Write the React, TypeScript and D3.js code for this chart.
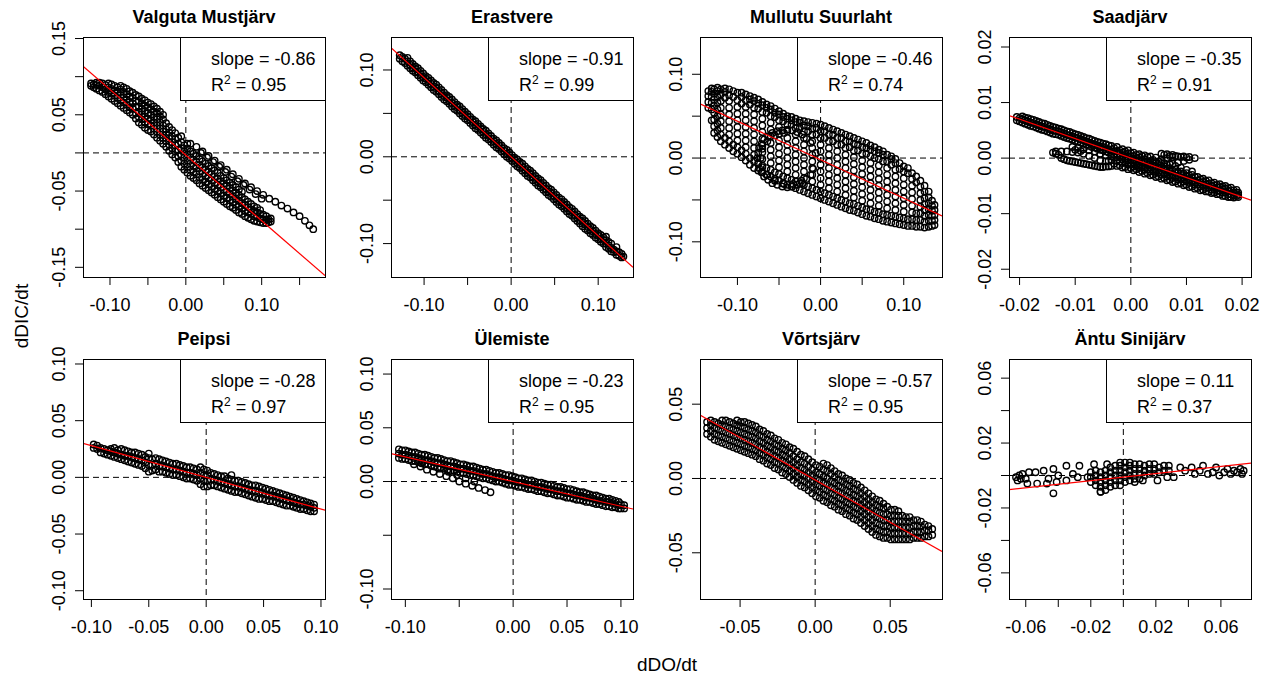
import React from 'react';
import * as d3 from 'd3';

type Col = [number, number[]];
type Pt = [number, number];

// panel titles and fit results
const lakes = ['Valguta Mustjärv', 'Erastvere', 'Mullutu Suurlaht', 'Saadjärv', 'Peipsi', 'Ülemiste', 'Võrtsjärv', 'Äntu Sinijärv'];
const slopes = [-0.86, -0.91, -0.46, -0.35, -0.28, -0.23, -0.57, 0.11];
const rSquared = [0.95, 0.99, 0.74, 0.91, 0.97, 0.95, 0.95, 0.37];
const intercepts = [-0.003, 0, -0.002, 0, 0, 0, -0.001, -0.001];

// axis limits (usr coords)
const xLimits: Pt[] = [[-0.1356, 0.1835], [-0.138, 0.14], [-0.145, 0.146], [-0.0219, 0.0216], [-0.1073, 0.1035], [-0.1133, 0.1112], [-0.0767, 0.0845], [-0.0703, 0.0785]];
const yLimits: Pt[] = [[-0.1627, 0.152], [-0.1385, 0.138], [-0.142, 0.1445], [-0.0214, 0.0218], [-0.1073, 0.1044], [-0.1093, 0.114], [-0.0811, 0.0804], [-0.0761, 0.0718]];

const xTicks = [
  [-0.1, -0.05, 0, 0.05, 0.1, 0.15], [-0.1, -0.05, 0, 0.05, 0.1], [-0.1, -0.05, 0, 0.05, 0.1], [-0.02, -0.01, 0, 0.01, 0.02],
  [-0.1, -0.05, 0, 0.05, 0.1], [-0.1, -0.05, 0, 0.05, 0.1], [-0.05, 0, 0.05], [-0.06, -0.04, -0.02, 0, 0.02, 0.04, 0.06],
];
const xTickLabels = [
  ['-0.10', '', '0.00', '', '0.10', ''], ['-0.10', '', '0.00', '', '0.10'], ['-0.10', '', '0.00', '', '0.10'], ['-0.02', '-0.01', '0.00', '0.01', '0.02'],
  ['-0.10', '-0.05', '0.00', '0.05', '0.10'], ['-0.10', '', '0.00', '0.05', '0.10'], ['-0.05', '0.00', '0.05'], ['-0.06', '', '-0.02', '', '0.02', '', '0.06'],
];
const yTicks = [
  [-0.15, -0.1, -0.05, 0, 0.05, 0.1, 0.15], [-0.1, -0.05, 0, 0.05, 0.1], [-0.1, -0.05, 0, 0.05, 0.1], [-0.02, -0.01, 0, 0.01, 0.02],
  [-0.1, -0.05, 0, 0.05, 0.1], [-0.1, -0.05, 0, 0.05, 0.1], [-0.05, 0, 0.05], [-0.06, -0.04, -0.02, 0, 0.02, 0.04, 0.06],
];
const yTickLabels = [
  ['-0.15', '', '-0.05', '', '0.05', '', '0.15'], ['-0.10', '', '0.00', '', '0.10'], ['-0.10', '', '0.00', '', '0.10'], ['-0.02', '-0.01', '0.00', '0.01', '0.02'],
  ['-0.10', '-0.05', '0.00', '0.05', '0.10'], ['-0.10', '', '0.00', '0.05', '0.10'], ['-0.05', '0.00', '0.05'], ['-0.06', '', '-0.02', '', '0.02', '', '0.06'],
];

// scatter points: columns of [dDO/dt, dDIC/dt values]
const valgutaCols: Col[] = [
  [-0.125, [0.088, 0.091]], [-0.118, [0.084, 0.089, 0.092]], [-0.11, [0.08, 0.086, 0.091]], [-0.102, [0.074, 0.08, 0.086, 0.091]],
  [-0.094, [0.068, 0.075, 0.082, 0.088]], [-0.086, [0.062, 0.069, 0.076, 0.083, 0.088]], [-0.078, [0.056, 0.063, 0.07, 0.077, 0.084]],
  [-0.07, [0.05, 0.058, 0.065, 0.072, 0.079]], [-0.062, [0.04, 0.047, 0.054, 0.061, 0.068, 0.074]], [-0.054, [0.033, 0.04, 0.048, 0.055, 0.062, 0.069]],
  [-0.046, [0.028, 0.036, 0.043, 0.05, 0.057, 0.064]], [-0.038, [0.02, 0.028, 0.036, 0.044, 0.052, 0.058]], [-0.03, [0.012, 0.02, 0.028, 0.036, 0.044, 0.05]],
  [-0.022, [0.003, 0.011, 0.019, 0.027, 0.034]], [-0.014, [-0.006, 0.002, 0.01, 0.018, 0.026]], [-0.006, [-0.018, -0.01, -0.002, 0.006, 0.014, 0.022]],
  [0.002, [-0.026, -0.018, -0.01, -0.002, 0.006, 0.012]], [0.01, [-0.033, -0.025, -0.017, -0.009, -0.001]], [0.018, [-0.04, -0.032, -0.024, -0.016, -0.008]],
  [0.026, [-0.046, -0.038, -0.03, -0.022, -0.014]], [0.034, [-0.052, -0.044, -0.036, -0.028, -0.02]], [0.042, [-0.058, -0.05, -0.042, -0.034, -0.026]],
  [0.05, [-0.064, -0.056, -0.048, -0.04, -0.033]], [0.058, [-0.07, -0.062, -0.054, -0.046, -0.039]], [0.066, [-0.075, -0.068, -0.06, -0.052, -0.045]],
  [0.074, [-0.08, -0.073, -0.066, -0.058, -0.051]], [0.082, [-0.085, -0.078, -0.071, -0.064]], [0.09, [-0.089, -0.083, -0.076, -0.07]],
  [0.098, [-0.091, -0.086, -0.08, -0.075]], [0.106, [-0.092, -0.088, -0.083]], [0.112, [-0.09, -0.086]],
  [-0.1215, [0.086, 0.09]], [-0.114, [0.082, 0.088, 0.092]], [-0.106, [0.077, 0.083, 0.089]], [-0.098, [0.071, 0.078, 0.084, 0.09]],
  [-0.09, [0.065, 0.072, 0.079, 0.086]], [-0.082, [0.059, 0.066, 0.073, 0.08, 0.086]], [-0.074, [0.053, 0.06, 0.067, 0.074, 0.081]],
  [-0.066, [0.045, 0.052, 0.06, 0.068, 0.076]], [-0.058, [0.037, 0.044, 0.051, 0.058, 0.065, 0.071]], [-0.05, [0.03, 0.038, 0.045, 0.052, 0.06, 0.066]],
  [-0.042, [0.024, 0.032, 0.04, 0.047, 0.054, 0.061]], [-0.034, [0.016, 0.024, 0.032, 0.04, 0.048, 0.054]], [-0.026, [0.008, 0.016, 0.024, 0.031, 0.039]],
  [-0.018, [-0.002, 0.006, 0.014, 0.022, 0.03]], [-0.01, [-0.012, -0.004, 0.004, 0.012, 0.02]], [-0.002, [-0.022, -0.014, -0.006, 0.002, 0.01]],
  [0.006, [-0.03, -0.022, -0.014, -0.006, 0.002]], [0.014, [-0.036, -0.028, -0.02, -0.012, -0.004]], [0.022, [-0.043, -0.035, -0.027, -0.019, -0.011]],
  [0.03, [-0.049, -0.041, -0.033, -0.025, -0.017]], [0.038, [-0.055, -0.047, -0.039, -0.031, -0.023]], [0.046, [-0.061, -0.053, -0.045, -0.037, -0.03]],
  [0.054, [-0.067, -0.059, -0.051, -0.043, -0.036]], [0.062, [-0.072, -0.065, -0.057, -0.049, -0.042]], [0.07, [-0.078, -0.07, -0.063, -0.055, -0.048]],
  [0.078, [-0.083, -0.076, -0.068, -0.061]], [0.086, [-0.087, -0.08, -0.074, -0.067]], [0.094, [-0.09, -0.084, -0.078, -0.072]],
  [0.102, [-0.092, -0.087, -0.081]], [0.109, [-0.091, -0.087]],
];
const valgutaTrail: Pt[] = [
  [0.006, 0.012], [0.014, 0.008], [0.022, 0.002], [0.03, -0.004], [0.038, -0.01], [0.046, -0.016], [0.054, -0.022], [0.062, -0.028],
  [0.07, -0.034], [0.078, -0.04], [0.086, -0.045], [0.094, -0.05], [0.102, -0.055], [0.11, -0.06], [0.118, -0.064], [0.126, -0.069],
  [0.134, -0.073], [0.142, -0.078], [0.15, -0.083], [0.157, -0.089], [0.163, -0.095], [0.168, -0.1],
  [0.02, 0], [0.028, -0.006], [0.036, -0.012], [0.044, -0.018], [0.052, -0.025], [0.06, -0.031], [0.068, -0.037], [0.076, -0.042],
  [0.084, -0.048], [0.092, -0.054], [0.1, -0.06],
];

const erastvereCols: Col[] = [
  [-0.128, [0.113, 0.117]], [-0.122, [0.108, 0.113]], [-0.116, [0.102, 0.106, 0.11]], [-0.11, [0.097, 0.101, 0.104]],
  [-0.104, [0.091, 0.095, 0.099]], [-0.098, [0.086, 0.09, 0.093]], [-0.092, [0.08, 0.084, 0.088]], [-0.086, [0.075, 0.079, 0.083]],
  [-0.08, [0.069, 0.073, 0.077]], [-0.074, [0.064, 0.068, 0.071]], [-0.068, [0.058, 0.062, 0.066]], [-0.062, [0.053, 0.057, 0.06]],
  [-0.056, [0.047, 0.051, 0.055]], [-0.05, [0.042, 0.046, 0.049]], [-0.044, [0.036, 0.04, 0.043]], [-0.038, [0.031, 0.035, 0.038]],
  [-0.032, [0.025, 0.029, 0.032]], [-0.026, [0.02, 0.024, 0.027]], [-0.02, [0.014, 0.018, 0.021]], [-0.014, [0.009, 0.013, 0.016]],
  [-0.008, [0.003, 0.007, 0.01]], [-0.002, [-0.002, 0.002, 0.005]], [0.004, [-0.008, -0.004, -0.001]], [0.01, [-0.013, -0.009, -0.006]],
  [0.016, [-0.019, -0.015, -0.011]], [0.022, [-0.024, -0.02, -0.016]], [0.028, [-0.03, -0.026, -0.022]], [0.034, [-0.035, -0.031, -0.027]],
  [0.04, [-0.041, -0.037, -0.033]], [0.046, [-0.046, -0.042, -0.038]], [0.052, [-0.052, -0.048, -0.044]], [0.058, [-0.057, -0.053, -0.049]],
  [0.064, [-0.063, -0.059, -0.055]], [0.07, [-0.068, -0.064, -0.06]], [0.076, [-0.074, -0.07, -0.066]], [0.082, [-0.08, -0.075, -0.071]],
  [0.088, [-0.085, -0.081, -0.077]], [0.094, [-0.09, -0.086, -0.082]], [0.1, [-0.095, -0.091, -0.088]], [0.106, [-0.1, -0.096, -0.093]],
  [0.112, [-0.106, -0.102, -0.098]], [0.118, [-0.11, -0.107]], [0.124, [-0.114, -0.11]], [0.129, [-0.115]],
  [-0.125, [0.11, 0.115]], [-0.119, [0.105, 0.11, 0.114]], [-0.113, [0.099, 0.103, 0.107]], [-0.107, [0.094, 0.098, 0.102]],
  [-0.101, [0.088, 0.092, 0.096]], [-0.095, [0.083, 0.087, 0.091]], [-0.089, [0.077, 0.081, 0.085]], [-0.083, [0.072, 0.076, 0.08]],
  [-0.077, [0.066, 0.07, 0.074]], [-0.071, [0.061, 0.065, 0.069]], [-0.065, [0.055, 0.059, 0.063]], [-0.059, [0.05, 0.054, 0.058]],
  [-0.053, [0.044, 0.048, 0.052]], [-0.047, [0.039, 0.043, 0.046]], [-0.041, [0.033, 0.037, 0.041]], [-0.035, [0.028, 0.032, 0.035]],
  [-0.029, [0.022, 0.026, 0.03]], [-0.023, [0.017, 0.021, 0.024]], [-0.017, [0.011, 0.015, 0.019]], [-0.011, [0.006, 0.01, 0.013]],
  [-0.005, [0, 0.004, 0.008]], [0.001, [-0.005, -0.001, 0.002]], [0.007, [-0.011, -0.007, -0.003]], [0.013, [-0.016, -0.012, -0.008]],
  [0.019, [-0.022, -0.018, -0.014]], [0.025, [-0.027, -0.023, -0.019]], [0.031, [-0.033, -0.029, -0.025]], [0.037, [-0.038, -0.034, -0.03]],
  [0.043, [-0.044, -0.04, -0.036]], [0.049, [-0.049, -0.045, -0.041]], [0.055, [-0.055, -0.051, -0.047]], [0.061, [-0.06, -0.056, -0.052]],
  [0.067, [-0.066, -0.062, -0.058]], [0.073, [-0.071, -0.067, -0.063]], [0.079, [-0.077, -0.073, -0.069]], [0.085, [-0.083, -0.078, -0.074]],
  [0.091, [-0.088, -0.084, -0.08]], [0.097, [-0.093, -0.089, -0.085]], [0.103, [-0.098, -0.094, -0.09]], [0.109, [-0.104, -0.1, -0.096, -0.092]],
  [0.115, [-0.109, -0.105, -0.1]], [0.121, [-0.113, -0.109, -0.104]], [0.127, [-0.116, -0.112]],
];

const mullutuCols: Col[] = [
  [-0.135, [0.06, 0.067, 0.074, 0.08]],
  [-0.128, [0.03, 0.038, 0.046, 0.054, 0.062, 0.07, 0.077, 0.082]],
  [-0.12, [0.02, 0.028, 0.036, 0.044, 0.052, 0.06, 0.068, 0.076, 0.082]],
  [-0.11, [0.012, 0.02, 0.028, 0.036, 0.044, 0.052, 0.06, 0.068, 0.075, 0.082]],
  [-0.1, [0.005, 0.013, 0.021, 0.029, 0.037, 0.045, 0.053, 0.061, 0.069, 0.078]],
  [-0.09, [-0.003, 0.005, 0.013, 0.021, 0.029, 0.037, 0.045, 0.053, 0.061, 0.069, 0.076]],
  [-0.08, [-0.012, -0.004, 0.004, 0.012, 0.02, 0.028, 0.036, 0.044, 0.052, 0.06, 0.068, 0.072]],
  [-0.07, [-0.017, -0.009, -0.001, 0.007, 0.015, 0.023, 0.031, 0.039, 0.047, 0.055, 0.063, 0.067]],
  [-0.06, [-0.022, -0.014, -0.006, 0.002, 0.01, 0.018, 0.026, 0.034, 0.042, 0.05, 0.058, 0.062]],
  [-0.05, [-0.027, -0.019, -0.011, -0.003, 0.005, 0.013, 0.021, 0.029, 0.037, 0.045, 0.052, 0.056]],
  [-0.04, [-0.032, -0.024, -0.016, -0.008, 0, 0.008, 0.016, 0.024, 0.032, 0.04, 0.047, 0.05]],
  [-0.03, [-0.036, -0.028, -0.02, -0.012, -0.004, 0.004, 0.012, 0.02, 0.028, 0.036, 0.043, 0.047]],
  [-0.02, [-0.04, -0.032, -0.024, -0.016, -0.008, 0, 0.008, 0.016, 0.024, 0.032, 0.039, 0.044]],
  [-0.01, [-0.044, -0.036, -0.028, -0.02, -0.012, -0.004, 0.004, 0.012, 0.02, 0.028, 0.035, 0.042]],
  [0, [-0.048, -0.04, -0.032, -0.024, -0.016, -0.008, 0, 0.008, 0.016, 0.024, 0.032, 0.04]],
  [0.01, [-0.052, -0.044, -0.036, -0.028, -0.02, -0.012, -0.004, 0.004, 0.012, 0.02, 0.028, 0.036]],
  [0.02, [-0.056, -0.048, -0.04, -0.032, -0.024, -0.016, -0.008, 0, 0.008, 0.016, 0.024, 0.032]],
  [0.03, [-0.06, -0.052, -0.044, -0.036, -0.028, -0.02, -0.012, -0.004, 0.004, 0.012, 0.02, 0.028]],
  [0.04, [-0.063, -0.055, -0.047, -0.039, -0.031, -0.023, -0.015, -0.007, 0.001, 0.009, 0.017, 0.024]],
  [0.05, [-0.067, -0.059, -0.051, -0.043, -0.035, -0.027, -0.019, -0.011, -0.003, 0.005, 0.013, 0.02]],
  [0.06, [-0.07, -0.062, -0.054, -0.046, -0.038, -0.03, -0.022, -0.014, -0.006, 0.002, 0.01, 0.015]],
  [0.07, [-0.073, -0.065, -0.057, -0.049, -0.041, -0.033, -0.025, -0.017, -0.009, -0.001, 0.006, 0.01]],
  [0.08, [-0.076, -0.068, -0.06, -0.052, -0.044, -0.036, -0.028, -0.02, -0.012, -0.004, 0.004]],
  [0.09, [-0.078, -0.07, -0.062, -0.054, -0.046, -0.038, -0.03, -0.022, -0.014, -0.006, -0.001]],
  [0.1, [-0.08, -0.072, -0.064, -0.056, -0.048, -0.04, -0.032, -0.024, -0.016, -0.01]],
  [0.11, [-0.081, -0.073, -0.065, -0.057, -0.049, -0.041, -0.033, -0.025, -0.018]],
  [0.12, [-0.082, -0.074, -0.066, -0.058, -0.05, -0.042, -0.034, -0.027]],
  [0.13, [-0.082, -0.075, -0.068, -0.061, -0.054, -0.047, -0.04]],
  [0.137, [-0.08, -0.074, -0.068, -0.062, -0.056]],
  // denser outer rim and end blobs
  [-0.131, [0.045, 0.058, 0.066, 0.073, 0.079, 0.083]], [-0.124, [0.025, 0.033, 0.041, 0.05, 0.058, 0.066, 0.073, 0.08, 0.084]],
  [-0.115, [0.016, 0.024, 0.072, 0.079, 0.083]], [-0.105, [0.008, 0.016, 0.073, 0.08]], [-0.095, [0.001, 0.009, 0.065, 0.073, 0.078]],
  [-0.085, [-0.008, 0, 0.064, 0.07, 0.074]], [-0.075, [-0.015, -0.007, 0.059, 0.065, 0.07]], [-0.065, [-0.02, -0.012, 0.054, 0.06, 0.064]],
  [-0.055, [-0.025, -0.017, 0.049, 0.054, 0.059]], [-0.045, [-0.03, -0.022, 0.044, 0.049, 0.053]], [-0.035, [-0.034, -0.026, 0.04, 0.045, 0.049]],
  [-0.025, [-0.038, -0.03, 0.036, 0.042, 0.045]], [-0.015, [-0.042, -0.034, 0.032, 0.038, 0.043]], [-0.005, [-0.046, -0.038, 0.028, 0.036, 0.041]],
  [0.005, [-0.05, -0.042, 0.024, 0.032, 0.038]], [0.015, [-0.054, -0.046, 0.02, 0.028, 0.034]], [0.025, [-0.058, -0.05, 0.016, 0.024, 0.03]],
  [0.035, [-0.062, -0.054, 0.013, 0.02, 0.026]], [0.045, [-0.065, -0.057, 0.009, 0.016, 0.022]], [0.055, [-0.069, -0.061, 0.005, 0.012, 0.018]],
  [0.065, [-0.072, -0.064, 0, 0.008, 0.013]], [0.075, [-0.075, -0.067, -0.004, 0.004, 0.008]], [0.085, [-0.077, -0.069, -0.008, -0.001, 0.002]],
  [0.095, [-0.079, -0.071, -0.013, -0.006]], [0.105, [-0.081, -0.073, -0.018, -0.012]], [0.115, [-0.082, -0.074, -0.066, -0.029, -0.022]],
  [0.125, [-0.083, -0.076, -0.069, -0.062, -0.055, -0.048, -0.04, -0.033]], [0.134, [-0.081, -0.075, -0.069, -0.063, -0.057, -0.051]],
];
const mullutuRing: Pt[] = [
  [-0.076, 0], [-0.074, 0.012], [-0.068, 0.022], [-0.058, 0.03], [-0.046, 0.033], [-0.034, 0.033], [-0.022, 0.028], [-0.012, 0.018],
  [-0.006, 0.006], [-0.074, -0.012], [-0.068, -0.022], [-0.058, -0.03], [-0.046, -0.034], [-0.034, -0.034], [-0.022, -0.03], [-0.012, -0.02],
  [-0.075, 0.006], [-0.071, 0.017], [-0.063, 0.026], [-0.052, 0.032], [-0.04, 0.034], [-0.028, 0.031], [-0.017, 0.023],
  [-0.075, -0.006], [-0.071, -0.017], [-0.063, -0.026], [-0.052, -0.032], [-0.04, -0.035], [-0.028, -0.032], [-0.017, -0.025], [-0.009, -0.013],
  [-0.072, 0], [-0.07, 0.011], [-0.064, 0.02], [-0.055, 0.027], [-0.044, 0.03], [-0.07, -0.011], [-0.064, -0.02], [-0.055, -0.027],
  [-0.044, -0.031], [-0.033, -0.031], [-0.023, -0.027],
];

const saadCols: Col[] = [
  [-0.0205, [0.0068, 0.0074]], [-0.0195, [0.0064, 0.007, 0.0075]], [-0.0185, [0.006, 0.0066, 0.0072]], [-0.0175, [0.0057, 0.0063, 0.0069]],
  [-0.0165, [0.0053, 0.0059, 0.0065]], [-0.0155, [0.005, 0.0056, 0.0062]], [-0.0145, [0.0046, 0.0052, 0.0058]],
  [-0.0135, [0.0008, 0.0012, 0.0043, 0.0049, 0.0055]], [-0.0125, [0, 0.0012, 0.004, 0.0046, 0.0052]],
  [-0.0115, [-0.0004, 0.0012, 0.0036, 0.0042, 0.0048]], [-0.0105, [-0.0006, 0.0011, 0.002, 0.0033, 0.0039, 0.0045]],
  [-0.0095, [-0.0008, 0.001, 0.0018, 0.003, 0.0036, 0.0042]], [-0.0085, [-0.001, 0.0008, 0.0016, 0.0026, 0.0032, 0.0038]],
  [-0.0075, [-0.0012, 0.0004, 0.0014, 0.0022, 0.0028, 0.0035]], [-0.0065, [-0.0014, 0, 0.0012, 0.0019, 0.0025, 0.0031]],
  [-0.0055, [-0.0016, -0.0004, 0.0008, 0.0015, 0.0021, 0.0028]], [-0.0045, [-0.0015, -0.0006, 0.0005, 0.0012, 0.0018, 0.0025]],
  [-0.0035, [-0.0014, -0.0004, 0.0003, 0.0009, 0.0015, 0.0022]], [-0.0025, [-0.0014, -0.0005, 0.0002, 0.0008, 0.0013, 0.002]],
  [-0.0015, [-0.0017, -0.0009, -0.0002, 0.0004, 0.001, 0.0016]], [-0.0005, [-0.002, -0.0012, -0.0004, 0.0002, 0.0008, 0.0014]],
  [0.0005, [-0.0022, -0.0015, -0.0008, -0.0002, 0.0004, 0.001]], [0.0015, [-0.0025, -0.0018, -0.0011, -0.0005, 0.0001, 0.0007]],
  [0.0025, [-0.0028, -0.0021, -0.0014, -0.0008, -0.0002, 0.0005]], [0.0035, [-0.0031, -0.0024, -0.0017, -0.0011, -0.0005, 0.0003]],
  [0.0045, [-0.0034, -0.0027, -0.002, -0.0014, -0.0007, 0.0001]], [0.0055, [-0.0037, -0.003, -0.0023, -0.0016, -0.0009, -0.0002, 0.0008]],
  [0.0065, [-0.004, -0.0033, -0.0026, -0.0019, -0.0012, 0, 0.0007]], [0.0075, [-0.0043, -0.0036, -0.0029, -0.0022, -0.001, 0.0002, 0.0006]],
  [0.0085, [-0.0046, -0.0039, -0.0032, -0.0025, -0.0008, 0.0003]], [0.0095, [-0.0049, -0.0042, -0.0035, -0.0028, -0.0005, 0.0003]],
  [0.0105, [-0.0052, -0.0045, -0.0038, -0.0031, -0.0003, 0.0002]], [0.0115, [-0.0055, -0.0048, -0.0041, -0.0034, 0]],
  [0.0125, [-0.0058, -0.0051, -0.0044, -0.0038]], [0.0135, [-0.006, -0.0054, -0.0047, -0.0041]], [0.0145, [-0.0063, -0.0057, -0.005, -0.0045]],
  [0.0155, [-0.0065, -0.0059, -0.0053, -0.0048]], [0.0165, [-0.0068, -0.0062, -0.0056, -0.0051]], [0.0175, [-0.007, -0.0065, -0.0059, -0.0054]],
  [0.0185, [-0.0071, -0.0067, -0.0062, -0.0058]], [0.0193, [-0.007, -0.0066, -0.0062]],
  [-0.02, [0.0066, 0.0072]], [-0.019, [0.0062, 0.0068, 0.0073]], [-0.018, [0.0058, 0.0064, 0.007]], [-0.017, [0.0055, 0.0061, 0.0067]],
  [-0.016, [0.0051, 0.0057, 0.0063]], [-0.015, [0.0048, 0.0054, 0.006]], [-0.014, [0.0044, 0.005, 0.0056, 0.001]],
  [-0.013, [0.0042, 0.0048, 0.0053, 0.0006]], [-0.012, [0.0038, 0.0044, 0.005, -0.0002]], [-0.011, [0.0035, 0.0041, 0.0047, -0.0005]],
  [-0.01, [0.0031, 0.0037, 0.0043, -0.0007, 0.0015]], [-0.009, [0.0028, 0.0034, 0.004, -0.0009, 0.0013]], [-0.008, [0.0024, 0.003, 0.0036, -0.0011]],
  [-0.007, [0.002, 0.0026, 0.0033, -0.0013]], [-0.006, [0.0017, 0.0023, 0.0029, -0.0015]], [-0.005, [0.0014, 0.002, 0.0026, -0.0016]],
  [-0.004, [0.001, 0.0016, 0.0023, -0.0015, -0.0005]], [-0.003, [0.0006, 0.0012, 0.0018, -0.001]], [-0.002, [0.0002, 0.0008, 0.0014, -0.0006, -0.0013]],
  [-0.001, [-0.0001, 0.0006, 0.0012, -0.0008, -0.0016]], [0, [-0.0003, 0.0003, 0.0009, -0.001, -0.0018]], [0.001, [-0.0006, 0, 0.0006, -0.0013, -0.002]],
  [0.002, [-0.0009, -0.0003, 0.0004, -0.0016, -0.0023]], [0.003, [-0.0012, -0.0006, 0.0002, -0.002, -0.0027]], [0.004, [-0.0015, -0.0009, -0.0003, -0.0023, -0.003]],
  [0.005, [-0.0018, -0.0012, -0.0006, -0.0026, -0.0033]], [0.006, [-0.0021, -0.0015, -0.0009, -0.0028, -0.0036, 0.0006]],
  [0.007, [-0.0024, -0.0018, -0.0011, -0.0031, -0.0039, 0.0004]], [0.008, [-0.0027, -0.0021, -0.0014, -0.0034, -0.0042, 0.0004]],
  [0.009, [-0.003, -0.0024, -0.0017, -0.0037, -0.0045, 0.0002]], [0.01, [-0.0033, -0.0027, -0.0021, -0.004, -0.0048, 0.0001]],
  [0.011, [-0.0036, -0.003, -0.0024, -0.0043, -0.0051]], [0.012, [-0.004, -0.0034, -0.0047, -0.0054]], [0.013, [-0.0043, -0.0037, -0.005, -0.0057]],
  [0.014, [-0.0046, -0.004, -0.0053, -0.006]], [0.015, [-0.0049, -0.0044, -0.0056, -0.0062]], [0.016, [-0.0052, -0.0047, -0.0059, -0.0065]],
  [0.017, [-0.0055, -0.005, -0.0062, -0.0068]], [0.018, [-0.0058, -0.0053, -0.0065, -0.007]], [0.019, [-0.0062, -0.0057, -0.0068]],
];

const peipsiCols: Col[] = [
  [-0.098, [0.026, 0.029]], [-0.092, [0.022, 0.026]], [-0.086, [0.02, 0.024]], [-0.08, [0.018, 0.022, 0.026]], [-0.074, [0.016, 0.02, 0.025]],
  [-0.068, [0.014, 0.019, 0.023]], [-0.062, [0.012, 0.017, 0.022]], [-0.056, [0.01, 0.015, 0.02]], [-0.05, [0.005, 0.011, 0.017, 0.021]],
  [-0.044, [0.007, 0.012, 0.017]], [-0.038, [0.005, 0.01, 0.015]], [-0.032, [0.003, 0.008, 0.013]], [-0.026, [0.002, 0.007, 0.012]],
  [-0.02, [0, 0.005, 0.01]], [-0.014, [-0.001, 0.004, 0.009]], [-0.008, [-0.003, 0.002, 0.007]], [-0.002, [-0.008, -0.003, 0.002, 0.007]],
  [0.004, [-0.007, -0.002, 0.004]], [0.01, [-0.008, -0.003, 0.002]], [0.016, [-0.01, -0.005, 0.001]], [0.022, [-0.012, -0.007, -0.002, 0.002]],
  [0.028, [-0.013, -0.008, -0.003]], [0.034, [-0.015, -0.01, -0.005]], [0.04, [-0.017, -0.012, -0.007]], [0.046, [-0.019, -0.013, -0.008]],
  [0.052, [-0.02, -0.015, -0.01]], [0.058, [-0.021, -0.016, -0.012]], [0.064, [-0.023, -0.018, -0.014]], [0.07, [-0.025, -0.02, -0.016]],
  [0.076, [-0.026, -0.022, -0.018]], [0.082, [-0.028, -0.024, -0.02]], [0.088, [-0.029, -0.025, -0.022]], [0.094, [-0.03, -0.027, -0.024]],
  [-0.095, [0.025, 0.028]], [-0.089, [0.021, 0.025]], [-0.083, [0.019, 0.023, 0.025]], [-0.077, [0.017, 0.021, 0.024]], [-0.071, [0.015, 0.019, 0.024]],
  [-0.065, [0.013, 0.018, 0.022]], [-0.059, [0.011, 0.016, 0.021]], [-0.053, [0.008, 0.013, 0.018]], [-0.047, [0.006, 0.011, 0.016]],
  [-0.041, [0.005, 0.01, 0.016]], [-0.035, [0.004, 0.009, 0.014]], [-0.029, [0.002, 0.007, 0.012]], [-0.023, [0.001, 0.006, 0.011]],
  [-0.017, [-0.001, 0.004, 0.009]], [-0.011, [-0.002, 0.003, 0.008]], [-0.005, [-0.006, -0.001, 0.004, 0.009]], [0.001, [-0.008, -0.003, 0.002, 0.006]],
  [0.007, [-0.007, -0.002, 0.003]], [0.013, [-0.009, -0.004, 0.001]], [0.019, [-0.011, -0.006, -0.001]], [0.025, [-0.013, -0.008, -0.003]],
  [0.031, [-0.014, -0.009, -0.004]], [0.037, [-0.016, -0.011, -0.006]], [0.043, [-0.018, -0.012, -0.007]], [0.049, [-0.019, -0.014, -0.009]],
  [0.055, [-0.021, -0.016, -0.011]], [0.061, [-0.022, -0.017, -0.013]], [0.067, [-0.024, -0.019, -0.015]], [0.073, [-0.025, -0.021, -0.017]],
  [0.079, [-0.027, -0.023, -0.019]], [0.085, [-0.028, -0.024, -0.021]], [0.091, [-0.03, -0.026, -0.023]],
];

const ulemisteCols: Col[] = [
  [-0.106, [0.022, 0.026, 0.03]], [-0.1, [0.021, 0.025, 0.029]], [-0.094, [0.019, 0.023, 0.027]], [-0.088, [0.018, 0.022, 0.026]],
  [-0.082, [0.016, 0.02, 0.025]], [-0.076, [0.015, 0.019, 0.023]], [-0.07, [0.013, 0.017, 0.022]], [-0.064, [0.012, 0.016, 0.02]],
  [-0.058, [0.01, 0.014, 0.019]], [-0.052, [0.009, 0.013, 0.017]], [-0.046, [0.008, 0.012, 0.016]], [-0.04, [0.006, 0.01, 0.014]],
  [-0.034, [0.005, 0.009, 0.013]], [-0.028, [0.003, 0.007, 0.011]], [-0.022, [0.002, 0.006, 0.01]], [-0.016, [0, 0.004, 0.008]],
  [-0.01, [-0.001, 0.003, 0.007]], [-0.004, [-0.003, 0.001, 0.006]], [0.002, [-0.004, 0, 0.004]], [0.008, [-0.005, -0.001, 0.003]],
  [0.014, [-0.007, -0.003, 0.001]], [0.02, [-0.008, -0.004, 0]], [0.026, [-0.009, -0.005, -0.001]], [0.032, [-0.011, -0.007, -0.003]],
  [0.038, [-0.012, -0.008, -0.004]], [0.044, [-0.013, -0.009, -0.005]], [0.05, [-0.015, -0.011, -0.007]], [0.056, [-0.016, -0.012, -0.008]],
  [0.062, [-0.017, -0.013, -0.01]], [0.068, [-0.019, -0.015, -0.011]], [0.074, [-0.02, -0.016, -0.013]], [0.08, [-0.021, -0.018, -0.014]],
  [0.086, [-0.023, -0.019, -0.016]], [0.092, [-0.024, -0.02, -0.017]], [0.098, [-0.025, -0.022, -0.019]], [0.103, [-0.025, -0.022]],
  [-0.103, [0.021, 0.025, 0.029]], [-0.097, [0.02, 0.024, 0.028]], [-0.091, [0.019, 0.023, 0.027]], [-0.085, [0.017, 0.021, 0.025]],
  [-0.079, [0.016, 0.02, 0.024]], [-0.073, [0.014, 0.018, 0.022]], [-0.067, [0.013, 0.017, 0.021]], [-0.061, [0.011, 0.015, 0.019]],
  [-0.055, [0.01, 0.014, 0.018]], [-0.049, [0.008, 0.012, 0.016]], [-0.043, [0.007, 0.011, 0.015]], [-0.037, [0.006, 0.01, 0.014]],
  [-0.031, [0.004, 0.008, 0.012]], [-0.025, [0.003, 0.007, 0.011]], [-0.019, [0.001, 0.005, 0.009]], [-0.013, [0, 0.004, 0.008]],
  [-0.007, [-0.002, 0.002, 0.006]], [-0.001, [-0.003, 0.001, 0.005]], [0.005, [-0.005, -0.001, 0.003]], [0.011, [-0.006, -0.002, 0.002]],
  [0.017, [-0.007, -0.003, 0.001]], [0.023, [-0.009, -0.005, -0.001]], [0.029, [-0.01, -0.006, -0.002]], [0.035, [-0.011, -0.007, -0.003]],
  [0.041, [-0.013, -0.009, -0.005]], [0.047, [-0.014, -0.01, -0.006]], [0.053, [-0.015, -0.011, -0.007]], [0.059, [-0.017, -0.013, -0.009]],
  [0.065, [-0.018, -0.014, -0.01]], [0.071, [-0.019, -0.015, -0.012]], [0.077, [-0.021, -0.017, -0.013]], [0.083, [-0.022, -0.018, -0.015]],
  [0.089, [-0.023, -0.019, -0.016]], [0.095, [-0.024, -0.021, -0.018]], [0.1, [-0.025, -0.021]],
];
const ulemisteTrail: Pt[] = [
  [-0.092, 0.016], [-0.086, 0.014], [-0.08, 0.011], [-0.074, 0.009], [-0.068, 0.007], [-0.062, 0.005], [-0.056, 0.003], [-0.05, 0],
  [-0.044, -0.002], [-0.038, -0.004], [-0.032, -0.006], [-0.026, -0.008], [-0.021, -0.01],
  [-0.084, 0.018], [-0.076, 0.015], [-0.068, 0.012], [-0.06, 0.009], [-0.052, 0.006], [-0.044, 0.003], [-0.036, 0],
];

const vortsCols: Col[] = [
  [-0.072, [0.03, 0.034, 0.038]], [-0.067, [0.026, 0.03, 0.034, 0.038]], [-0.062, [0.024, 0.028, 0.032, 0.036, 0.039]],
  [-0.057, [0.022, 0.026, 0.03, 0.034, 0.038]], [-0.052, [0.02, 0.024, 0.028, 0.032, 0.036, 0.039]], [-0.047, [0.018, 0.022, 0.026, 0.03, 0.034, 0.038]],
  [-0.042, [0.016, 0.02, 0.024, 0.028, 0.032, 0.036]], [-0.037, [0.013, 0.017, 0.021, 0.025, 0.029, 0.033]], [-0.032, [0.01, 0.014, 0.018, 0.022, 0.026, 0.03]],
  [-0.027, [0.007, 0.011, 0.015, 0.019, 0.023, 0.027]], [-0.022, [0.004, 0.008, 0.012, 0.016, 0.02, 0.024]], [-0.017, [0.001, 0.005, 0.009, 0.013, 0.017, 0.021]],
  [-0.012, [-0.003, 0.001, 0.005, 0.009, 0.013, 0.018]], [-0.007, [-0.006, -0.002, 0.002, 0.006, 0.01, 0.015]], [-0.002, [-0.01, -0.006, -0.002, 0.002, 0.006, 0.011]],
  [0.003, [-0.013, -0.009, -0.005, -0.001, 0.003, 0.008]], [0.008, [-0.016, -0.012, -0.008, -0.004, 0, 0.005, 0.009]],
  [0.013, [-0.019, -0.015, -0.011, -0.007, -0.003, 0.001, 0.005]], [0.018, [-0.022, -0.018, -0.014, -0.01, -0.006, -0.002, 0.002]],
  [0.023, [-0.025, -0.021, -0.017, -0.013, -0.009, -0.005, -0.001]], [0.028, [-0.028, -0.024, -0.02, -0.016, -0.012, -0.008, -0.004]],
  [0.033, [-0.032, -0.028, -0.024, -0.02, -0.016, -0.012, -0.008]], [0.038, [-0.036, -0.032, -0.028, -0.024, -0.02, -0.016, -0.012]],
  [0.043, [-0.039, -0.035, -0.031, -0.027, -0.023, -0.019, -0.015]], [0.048, [-0.04, -0.036, -0.032, -0.028, -0.024, -0.019]],
  [0.053, [-0.041, -0.037, -0.033, -0.029, -0.025, -0.021]], [0.058, [-0.041, -0.037, -0.033, -0.029, -0.025]],
  [0.063, [-0.041, -0.037, -0.033, -0.029, -0.026]], [0.068, [-0.04, -0.036, -0.032, -0.028]], [0.073, [-0.039, -0.035, -0.031]],
  [0.078, [-0.038, -0.034]],
  [-0.0695, [0.028, 0.032, 0.036, 0.039]], [-0.0645, [0.025, 0.029, 0.033, 0.037]], [-0.0595, [0.023, 0.027, 0.031, 0.035, 0.039]],
  [-0.0545, [0.021, 0.025, 0.029, 0.033, 0.037]], [-0.0495, [0.019, 0.023, 0.027, 0.031, 0.035, 0.038]], [-0.0445, [0.017, 0.021, 0.025, 0.029, 0.033, 0.037]],
  [-0.0395, [0.015, 0.019, 0.023, 0.027, 0.031, 0.035]], [-0.0345, [0.012, 0.016, 0.02, 0.024, 0.028, 0.032]], [-0.0295, [0.009, 0.013, 0.017, 0.021, 0.025, 0.029]],
  [-0.0245, [0.006, 0.01, 0.014, 0.018, 0.022, 0.026]], [-0.0195, [0.003, 0.007, 0.011, 0.015, 0.019, 0.023]], [-0.0145, [-0.001, 0.003, 0.007, 0.011, 0.015, 0.02]],
  [-0.0095, [-0.005, -0.001, 0.003, 0.007, 0.011, 0.016]], [-0.0045, [-0.008, -0.004, 0, 0.004, 0.008, 0.013]], [0.0005, [-0.012, -0.008, -0.004, 0, 0.004, 0.009]],
  [0.0055, [-0.015, -0.011, -0.007, -0.003, 0.001, 0.006, 0.01]], [0.0105, [-0.018, -0.014, -0.01, -0.006, -0.002, 0.003, 0.007]],
  [0.0155, [-0.021, -0.017, -0.013, -0.009, -0.005, -0.001, 0.003]], [0.0205, [-0.024, -0.02, -0.016, -0.012, -0.008, -0.004, 0]],
  [0.0255, [-0.027, -0.023, -0.019, -0.015, -0.011, -0.007, -0.003]], [0.0305, [-0.03, -0.026, -0.022, -0.018, -0.014, -0.01, -0.006]],
  [0.0355, [-0.034, -0.03, -0.026, -0.022, -0.018, -0.014, -0.01]], [0.0405, [-0.038, -0.034, -0.03, -0.026, -0.022, -0.018, -0.014]],
  [0.0455, [-0.04, -0.036, -0.032, -0.028, -0.024, -0.02, -0.017]], [0.0505, [-0.041, -0.037, -0.033, -0.029, -0.025, -0.021]],
  [0.0555, [-0.041, -0.037, -0.033, -0.029, -0.025, -0.022]], [0.0605, [-0.041, -0.037, -0.033, -0.029, -0.026]],
  [0.0655, [-0.04, -0.036, -0.032, -0.028]], [0.0705, [-0.04, -0.036, -0.032, -0.029]], [0.0755, [-0.039, -0.035, -0.032]],
];

const antuCols: Col[] = [
  [-0.02, [-0.004, -0.001, 0.002]], [-0.017, [-0.006, -0.003, 0, 0.003]], [-0.014, [-0.01, -0.007, -0.004, -0.001, 0.002]],
  [-0.011, [-0.009, -0.006, -0.003, 0, 0.003]], [-0.008, [-0.007, -0.004, -0.001, 0.002, 0.005]], [-0.005, [-0.006, -0.003, 0, 0.003, 0.006]],
  [-0.002, [-0.006, -0.003, 0, 0.003, 0.006, 0.008]], [0.001, [-0.004, -0.001, 0.002, 0.005, 0.008]], [0.004, [-0.003, 0, 0.003, 0.006, 0.008]],
  [0.007, [-0.002, 0.001, 0.004, 0.007]], [0.01, [-0.002, 0.001, 0.004, 0.007]], [0.013, [0, 0.003, 0.006]], [0.016, [0.001, 0.004, 0.007]],
  [0.019, [0.001, 0.004, 0.007]], [0.022, [0.002, 0.005]], [0.025, [0.003, 0.006]], [0.028, [0.003, 0.006]],
];
const antuScatter: Pt[] = [
  [-0.066, -0.001], [-0.065, -0.003], [-0.064, 0], [-0.063, -0.002], [-0.062, 0.001], [-0.06, -0.002], [-0.058, 0.002], [-0.054, 0.002],
  [-0.049, 0.003], [-0.043, 0.004], [-0.035, 0.006], [-0.027, 0.006], [-0.018, 0.007], [-0.01, 0.007],
  [-0.059, -0.005], [-0.053, -0.005], [-0.047, -0.005], [-0.041, -0.004], [-0.043, -0.011], [-0.035, -0.003], [-0.028, -0.001],
  [-0.022, -0.001], [-0.046, -0.002], [-0.04, 0], [-0.031, 0.001],
  [0.007, -0.004], [0.012, -0.003], [0.021, -0.003], [0.027, -0.001], [0.031, -0.001], [-0.014, -0.01],
  [0.035, 0.005], [0.042, 0.005], [0.044, 0.001], [0.049, 0.006], [0.052, 0.001], [0.057, 0.005], [0.059, 0], [0.064, 0.004],
  [0.068, 0.003], [0.072, 0.004], [0.038, 0.003], [0.047, 0.003], [0.055, 0.002], [0.062, 0.002], [0.066, 0.001], [0.07, 0.002],
  [0.074, 0.003], [0.073, 0.001],
];

const expand = (cols: Col[], extra: Pt[] = []): Pt[] => [
  ...cols.flatMap(([cx, ys]) => ys.map((v) => [cx, v] as Pt)),
  ...extra,
];

const panelPoints: Pt[][] = [
  expand(valgutaCols, valgutaTrail),
  expand(erastvereCols),
  expand(mullutuCols, mullutuRing),
  expand(saadCols),
  expand(peipsiCols),
  expand(ulemisteCols, ulemisteTrail),
  expand(vortsCols),
  expand(antuCols, antuScatter),
];

const W = 1270;
const H = 677;
const colLeft = [83, 391, 700, 1009];
const rowTop = [37, 359];
const pw = 242;
const ph = 240;
const font = '"Liberation Sans", Arial, Helvetica, sans-serif';

const Panel = ({ i }: { i: number }) => {
  const left = colLeft[i % 4];
  const top = rowTop[Math.floor(i / 4)];
  const x = d3.scaleLinear().domain(xLimits[i]).range([left, left + pw]);
  const y = d3.scaleLinear().domain(yLimits[i]).range([top + ph, top]);
  const fit = d3
    .line<number>()
    .x((d) => x(d))
    .y((d) => y(intercepts[i] + slopes[i] * d));
  const clipId = `clip-${i}`;
  const legX = left + 97;
  const legH = 63;

  return (
    <g>
      <clipPath id={clipId}>
        <rect x={left} y={top} width={pw} height={ph} />
      </clipPath>
      <g clipPath={`url(#${clipId})`}>
        {panelPoints[i].map((p, k) => (
          <circle key={k} cx={x(p[0])} cy={y(p[1])} r={3.2} fill="none" stroke="#000" strokeWidth={1.4} />
        ))}
        <line x1={left} x2={left + pw} y1={y(0)} y2={y(0)} stroke="#000" strokeDasharray="6,4" />
        <line x1={x(0)} x2={x(0)} y1={top} y2={top + ph} stroke="#000" strokeDasharray="6,4" />
        <path d={fit(xLimits[i]) ?? ''} stroke="#ff0000" strokeWidth={1.2} fill="none" />
      </g>
      <rect x={legX + 0.5} y={top + 0.5} width={left + pw - legX} height={legH} fill="#fff" stroke="#000" />
      <text x={legX + 31} y={top + 28} fontSize={18} fontFamily={font}>
        {`slope = ${slopes[i].toFixed(2)}`}
      </text>
      <text x={legX + 31} y={top + 54} fontSize={18} fontFamily={font}>
        R<tspan fontSize={12} dy={-7}>2</tspan>
        <tspan dy={7}>{` = ${rSquared[i].toFixed(2)}`}</tspan>
      </text>
      <rect x={left + 0.5} y={top + 0.5} width={pw} height={ph} fill="none" stroke="#000" />
      <text x={left + pw / 2} y={top - 14} textAnchor="middle" fontSize={18} fontWeight="bold" fontFamily={font}>
        {lakes[i]}
      </text>
      {xTicks[i].map((t, k) => (
        <g key={`xt${k}`}>
          <line x1={x(t)} x2={x(t)} y1={top + ph} y2={top + ph + 8} stroke="#000" />
          {xTickLabels[i][k] && (
            <text x={x(t)} y={top + ph + 34} textAnchor="middle" fontSize={18} fontFamily={font}>
              {xTickLabels[i][k]}
            </text>
          )}
        </g>
      ))}
      {yTicks[i].map((t, k) => (
        <g key={`yt${k}`}>
          <line x1={left - 8} x2={left} y1={y(t)} y2={y(t)} stroke="#000" />
          {yTickLabels[i][k] && (
            <text
              transform={`translate(${left - 18},${y(t)}) rotate(-90)`}
              textAnchor="middle"
              fontSize={18}
              fontFamily={font}
            >
              {yTickLabels[i][k]}
            </text>
          )}
        </g>
      ))}
    </g>
  );
};

export default function App() {
  return (
    <svg width={W} height={H} style={{ position: 'absolute', left: 0, top: 0, background: '#fff' }}>
      <rect width={W} height={H} fill="#fff" />
      {lakes.map((_, i) => (
        <Panel key={i} i={i} />
      ))}
      <text x={667} y={671} textAnchor="middle" fontSize={19} fontFamily={font}>
        dDO/dt
      </text>
      <text transform="translate(28,316) rotate(-90)" textAnchor="middle" fontSize={19} fontFamily={font}>
        dDIC/dt
      </text>
    </svg>
  );
}
